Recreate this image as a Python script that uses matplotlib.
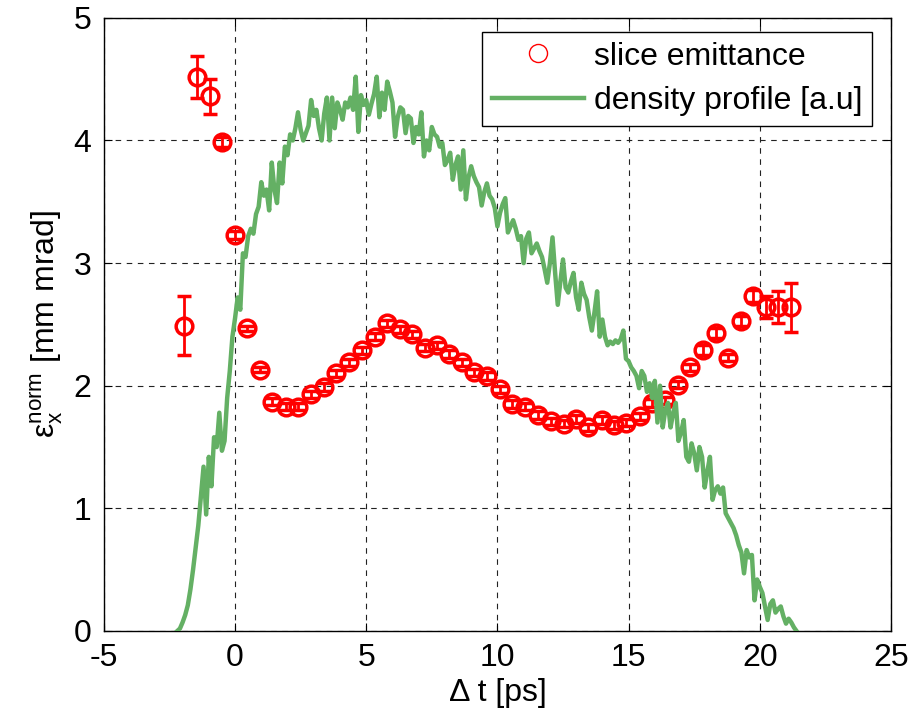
import matplotlib
matplotlib.use('Agg')
import matplotlib.pyplot as plt
from matplotlib.lines import Line2D

plt.rcParams['font.family'] = ['Liberation Sans', 'DejaVu Sans']
plt.rcParams['mathtext.fontset'] = 'custom'
plt.rcParams['mathtext.rm'] = 'Liberation Sans'
plt.rcParams['mathtext.it'] = 'Liberation Sans:italic'
plt.rcParams['axes.unicode_minus'] = False

# slice emittance (red circles with error bars)
slice_t = [-1.95, -1.45, -0.95, -0.50, 0.00, 0.46, 0.95, 1.41, 1.95, 2.40,
           2.90, 3.40, 3.85, 4.35, 4.85, 5.34, 5.80, 6.30, 6.76, 7.25,
           7.71, 8.17, 8.66, 9.12, 9.62, 10.08, 10.57, 11.07, 11.53, 12.06,
           12.52, 12.98, 13.44, 13.97, 14.43, 14.92, 15.42, 15.88, 16.37, 16.87,
           17.33, 17.82, 18.32, 18.78, 19.27, 19.73, 20.23, 20.69, 21.18]
slice_emit = [2.49, 4.52, 4.36, 3.99, 3.23, 2.47, 2.13, 1.87, 1.83, 1.83,
              1.93, 1.99, 2.10, 2.19, 2.29, 2.40, 2.51, 2.46, 2.42, 2.31,
              2.33, 2.26, 2.19, 2.11, 2.08, 1.97, 1.85, 1.83, 1.76, 1.71,
              1.69, 1.73, 1.66, 1.72, 1.68, 1.70, 1.75, 1.86, 1.88, 2.01,
              2.15, 2.29, 2.43, 2.23, 2.53, 2.73, 2.64, 2.64, 2.64]
slice_err = [0.24, 0.17, 0.14, 0.04, 0.03, 0.02, 0.02, 0.03, 0.03, 0.03,
             0.03, 0.03, 0.03, 0.03, 0.03, 0.03, 0.03, 0.03, 0.03, 0.03,
             0.03, 0.03, 0.03, 0.03, 0.03, 0.03, 0.03, 0.03, 0.03, 0.03,
             0.03, 0.03, 0.03, 0.03, 0.03, 0.03, 0.03, 0.03, 0.03, 0.03,
             0.03, 0.04, 0.04, 0.03, 0.04, 0.05, 0.09, 0.13, 0.20]

# density profile (green line)
dens_t = [-2.2, -2.1, -2.0, -1.9, -1.8, -1.7, -1.6, -1.5, -1.4, -1.3,
          -1.2, -1.1, -1.0, -0.9, -0.8, -0.7, -0.6, -0.5, -0.4, -0.3,
          -0.2, -0.1, 0.0, 0.1, 0.2, 0.3, 0.4, 0.5, 0.6, 0.7,
          0.8, 0.9, 1.0, 1.1, 1.2, 1.3, 1.4, 1.5, 1.6, 1.7,
          1.8, 1.9, 2.0, 2.1, 2.2, 2.3, 2.4, 2.5, 2.6, 2.7,
          2.8, 2.9, 3.0, 3.1, 3.2, 3.3, 3.4, 3.5, 3.6, 3.7,
          3.8, 3.9, 4.0, 4.1, 4.2, 4.3, 4.4, 4.5, 4.6, 4.7,
          4.8, 4.9, 5.0, 5.1, 5.2, 5.3, 5.4, 5.5, 5.6, 5.7,
          5.8, 5.9, 6.0, 6.1, 6.2, 6.3, 6.4, 6.5, 6.6, 6.7,
          6.8, 6.9, 7.0, 7.1, 7.2, 7.3, 7.4, 7.5, 7.6, 7.7,
          7.8, 7.9, 8.0, 8.1, 8.2, 8.3, 8.4, 8.5, 8.6, 8.7,
          8.8, 8.9, 9.0, 9.1, 9.2, 9.3, 9.4, 9.5, 9.6, 9.7,
          9.8, 9.9, 10.0, 10.1, 10.2, 10.3, 10.4, 10.5, 10.6, 10.7,
          10.8, 10.9, 11.0, 11.1, 11.2, 11.3, 11.4, 11.5, 11.6, 11.7,
          11.8, 11.9, 12.0, 12.1, 12.2, 12.3, 12.4, 12.5, 12.6, 12.7,
          12.8, 12.9, 13.0, 13.1, 13.2, 13.3, 13.4, 13.5, 13.6, 13.7,
          13.8, 13.9, 14.0, 14.1, 14.2, 14.3, 14.4, 14.5, 14.6, 14.7,
          14.8, 14.9, 15.0, 15.1, 15.2, 15.3, 15.4, 15.5, 15.6, 15.7,
          15.8, 15.9, 16.0, 16.1, 16.2, 16.3, 16.4, 16.5, 16.6, 16.7,
          16.8, 16.9, 17.0, 17.1, 17.2, 17.3, 17.4, 17.5, 17.6, 17.7,
          17.8, 17.9, 18.0, 18.1, 18.2, 18.3, 18.4, 18.5, 18.6, 18.7,
          18.8, 18.9, 19.0, 19.1, 19.2, 19.3, 19.4, 19.5, 19.6, 19.7,
          19.8, 19.9, 20.0, 20.1, 20.2, 20.3, 20.4, 20.5, 20.6, 20.7,
          20.8, 20.9, 21.0, 21.1, 21.2, 21.3, 21.4]
dens = [0.00, 0.02, 0.07, 0.13, 0.21, 0.34, 0.50, 0.68, 0.86, 1.10,
        1.34, 0.95, 1.42, 1.18, 1.58, 1.50, 1.78, 1.47, 1.55, 1.90,
        2.12, 2.40, 2.55, 2.72, 2.62, 3.08, 3.05, 3.22, 3.28, 3.24,
        3.40, 3.46, 3.66, 3.55, 3.60, 3.43, 3.82, 3.60, 3.49, 3.82,
        3.65, 3.95, 3.88, 4.05, 4.00, 4.10, 4.23, 4.09, 4.00, 4.06,
        4.12, 4.33, 4.20, 4.25, 4.10, 4.00, 4.22, 4.35, 4.00, 4.35,
        4.10, 4.31, 4.25, 4.17, 4.31, 4.27, 4.35, 4.25, 4.52, 4.07,
        4.37, 4.29, 4.33, 4.21, 4.30, 4.38, 4.52, 4.19, 4.39, 4.25,
        4.48, 4.40, 4.31, 4.03, 4.19, 4.27, 4.25, 4.06, 4.20, 4.18,
        3.98, 4.11, 4.05, 4.23, 3.87, 4.00, 3.92, 4.11, 4.05, 4.03,
        3.95, 3.98, 3.80, 3.84, 3.90, 3.68, 3.80, 3.87, 3.60, 3.92,
        3.52, 3.70, 3.79, 3.71, 3.66, 3.62, 3.47, 3.58, 3.65, 3.55,
        3.52, 3.45, 3.30, 3.41, 3.48, 3.53, 3.25, 3.30, 3.35, 3.28,
        3.19, 3.22, 3.00, 3.20, 3.25, 3.08, 3.12, 3.16, 3.10, 3.05,
        2.95, 2.84, 3.00, 3.21, 2.92, 2.66, 2.85, 3.03, 2.80, 2.76,
        2.85, 2.92, 2.72, 2.62, 2.84, 2.75, 2.70, 2.56, 2.45, 2.60,
        2.77, 2.40, 2.54, 2.40, 2.33, 2.36, 2.34, 2.37, 2.35, 2.38,
        2.45, 2.22, 2.20, 2.15, 2.12, 2.08, 1.98, 2.12, 2.08, 1.95,
        2.02, 1.90, 2.04, 1.70, 2.00, 1.66, 1.80, 1.86, 1.66, 1.78,
        1.86, 1.55, 1.62, 1.72, 1.42, 1.38, 1.53, 1.45, 1.31, 1.50,
        1.42, 1.17, 1.30, 1.42, 1.07, 1.15, 1.18, 1.12, 1.17, 0.96,
        0.92, 0.88, 0.84, 0.78, 0.70, 0.64, 0.47, 0.66, 0.60, 0.62,
        0.25, 0.42, 0.36, 0.31, 0.20, 0.09, 0.22, 0.25, 0.15, 0.18,
        0.20, 0.12, 0.06, 0.10, 0.07, 0.03, 0.00]

fig = plt.figure(figsize=(9.11, 7.15), dpi=100)
ax = fig.add_axes([0.114, 0.1175, 0.864, 0.8575])

ax.errorbar(slice_t, slice_emit, yerr=slice_err, fmt='o', color='red',
            mfc='none', ms=12, mew=2.5, elinewidth=2, capsize=5,
            capthick=2, zorder=3)
ax.plot(dens_t, dens, color='#64b064', lw=3.2, zorder=4)

ax.set_xlim(-5, 25)
ax.set_ylim(0, 5)
ax.set_xticks([-5, 0, 5, 10, 15, 20, 25])
ax.set_yticks([0, 1, 2, 3, 4, 5])
ax.grid(True, color='#222222', linestyle=(0, (5, 5)), linewidth=0.8)
ax.tick_params(direction='in', top=True, right=True, length=6,
               labelsize=23, pad=9)
for s in ax.spines.values():
    s.set_linewidth(1.0)

ax.set_xlabel('\u0394 t [ps]', fontsize=23, labelpad=3)
ax.set_ylabel(r'$\mathrm{\varepsilon}_\mathrm{x}^\mathrm{norm}$ [mm mrad]',
              fontsize=23, labelpad=6)

# legend uses a thin small circle like the original
handles = [Line2D([], [], marker='o', color='red', mfc='none', ms=13,
                  mew=1, linestyle='none'),
           Line2D([], [], color='#64b064', lw=3.2)]
leg = ax.legend(handles, ['slice emittance', 'density profile [a.u]'],
                loc='upper right', bbox_to_anchor=(0.976, 0.977),
                borderaxespad=0, fontsize=23, fancybox=False,
                framealpha=1, edgecolor='k', handlelength=2.9,
                handletextpad=0.3, borderpad=0.3, labelspacing=0.45)
leg.get_frame().set_linewidth(1.0)

fig.savefig('out.png', dpi=100)
